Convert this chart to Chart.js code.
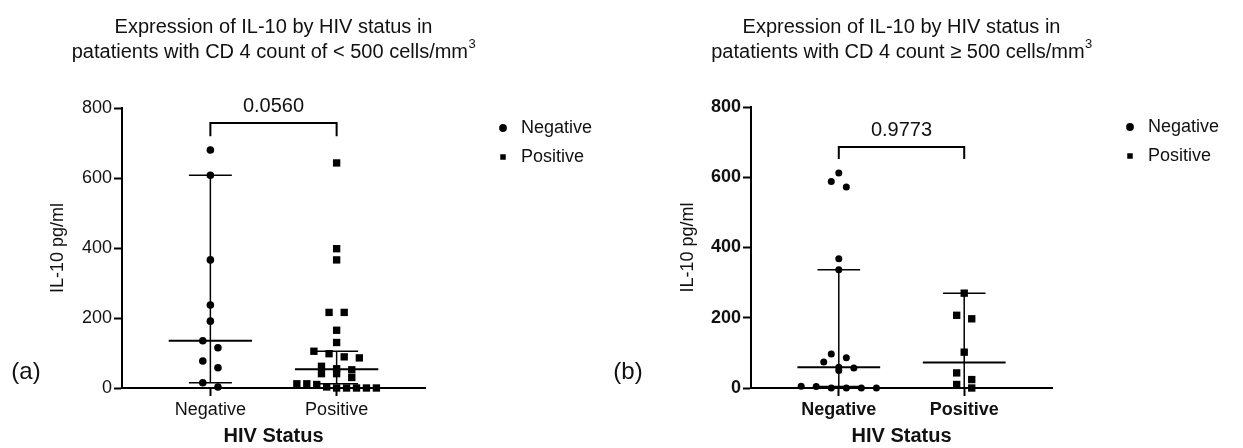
<!DOCTYPE html>
<html>
<head>
<meta charset="utf-8">
<script src="https://cdn.jsdelivr.net/npm/chart.js@4"></script>
<style>
  body { margin: 0; background: #fff; }
  #wrap { position: relative; width: 1243px; height: 448px; }
  canvas { position: absolute; top: 0; }
  #leftChart { left: 0; }
  #rightChart { left: 605px; }
</style>
</head>
<body>
<div id="wrap">
  <canvas id="leftChart" width="605" height="448"></canvas>
  <canvas id="rightChart" width="638" height="448"></canvas>
</div>
<script>
// data (IL-10 pg/ml)
const categories = ["Negative", "Positive"];
const lowNegative = [680, 608, 366, 237, 191, 135, 115, 77, 58, 15, 3];
const lowPositive = [643, 398, 366, 216, 216, 165, 130, 105, 98, 89, 86, 62, 55, 52, 41, 41, 30, 12, 12, 10, 3, 0, 0, 0, 0, 0];
const highNegative = [612, 588, 572, 368, 337, 97, 86, 74, 59, 57, 50, 5, 4, 0, 0, 0, 0];
const highPositive = [270, 207, 197, 102, 43, 24, 10, 0];
const pValues = ["0.0560", "0.9773"];
const bracketTop = [757, 686];
const bracketFoot = [719, 652];
const yTicks = [0, 200, 400, 600, 800];

const FONT = "'Liberation Sans', Arial, Helvetica, sans-serif";
Chart.defaults.font.family = FONT;
Chart.defaults.color = "#111";

// =========================
// helpers
// =========================

function sortedAsc(a) {
    return [...a].sort((p, q) => p - q);
}

function median(a) {
    const s = sortedAsc(a), n = s.length;
    return n % 2 ? s[(n - 1) / 2] : (s[n / 2 - 1] + s[n / 2]) / 2;
}

// 95% CI of the median (binomial ranks)
function medianCI(a) {
    const s = sortedAsc(a), n = s.length;
    let cum = 0, c = 1, j = 1;
    for (let k = 0; k < n; k++) {
        cum += c / Math.pow(2, n);
        if (cum > 0.025) { j = Math.max(k, 1); break; }
        c = c * (n - k) / (k + 1);
    }
    return [s[j - 1], s[n - j]];
}

// spread points with similar values sideways, like a scatter dot plot
function swarm(values, center) {
    const sorted = [...values].sort((p, q) => q - p);
    const rows = [];
    sorted.forEach(v => {
        const row = rows[rows.length - 1];
        if (row && row[0] - v <= 20) row.push(v); else rows.push([v]);
    });
    const pts = [];
    rows.forEach(row => {
        const step = row.length > 1 ? Math.min(0.12, 0.63 / (row.length - 1)) : 0;
        row.forEach((v, i) => pts.push({ x: center + (i - (row.length - 1) / 2) * step, y: v }));
    });
    return pts;
}

function seg(points, width) {
    return {
        data: points.map(p => ({ x: p[0], y: p[1] })),
        showLine: true,
        borderColor: "#000",
        borderWidth: width,
        pointRadius: 0,
        tension: 0,
        clip: false
    };
}

function groupLines(values, center) {
    const m = median(values);
    const [lo, hi] = medianCI(values);
    return [
        seg([[center - 0.33, m], [center + 0.33, m]], 2),
        seg([[center, lo], [center, hi]], 1.5),
        seg([[center - 0.17, lo], [center + 0.17, lo]], 1.5),
        seg([[center - 0.17, hi], [center + 0.17, hi]], 1.5)
    ];
}

// title (with superscript), p value and panel letter
const panelText = {
    id: "panelText",
    afterDraw(chart, args, opts) {
        const { ctx, chartArea } = chart;
        const x = chart.scales.x, y = chart.scales.y;
        const cx = (chartArea.left + chartArea.right) / 2;
        ctx.save();
        ctx.fillStyle = "#111";
        ctx.textBaseline = "middle";

        ctx.textAlign = "center";
        ctx.font = "20px " + FONT;
        ctx.fillText(opts.title[0], cx, 27);

        const w1 = ctx.measureText(opts.title[1]).width;
        ctx.font = "13px " + FONT;
        const w2 = ctx.measureText(opts.sup).width;
        const start = cx - (w1 + w2) / 2;
        ctx.textAlign = "left";
        ctx.font = "20px " + FONT;
        ctx.fillText(opts.title[1], start, 52);
        ctx.font = "13px " + FONT;
        ctx.fillText(opts.sup, start + w1 + 0.5, 44);

        ctx.textAlign = "center";
        ctx.font = "20px " + FONT;
        ctx.fillText(opts.pValue, x.getPixelForValue(1.5), y.getPixelForValue(opts.bracketTop) - 17);
        ctx.font = "24px " + FONT;
        ctx.fillText(opts.letter, opts.letterX, 372);
        ctx.restore();
    }
};

function makePanel(el, cfg) {
    const tickFont = { size: 18, weight: cfg.bold ? "bold" : "normal" };
    const gridOpts = {
        display: true,
        drawOnChartArea: false,
        drawTicks: true,
        tickLength: 8,
        tickWidth: 2,
        tickColor: "#000"
    };

    new Chart(el, {
        type: "scatter",
        data: {
            datasets: [
                {
                    label: categories[0],
                    data: swarm(cfg.neg, 1),
                    pointStyle: "circle",
                    pointRadius: cfg.dotRadius,
                    backgroundColor: "#000",
                    borderColor: "#000",
                    borderWidth: 0,
                    clip: false
                },
                {
                    label: categories[1],
                    data: swarm(cfg.pos, 2),
                    pointStyle: "rect",
                    pointRadius: 5.2,
                    backgroundColor: "#000",
                    borderColor: "#000",
                    borderWidth: 0,
                    clip: false
                },
                ...groupLines(cfg.neg, 1),
                ...groupLines(cfg.pos, 2),
                seg([[1, cfg.bracketFoot], [1, cfg.bracketTop], [2, cfg.bracketTop], [2, cfg.bracketFoot]], 2)
            ]
        },
        options: {
            responsive: false,
            animation: false,
            layout: { padding: { left: cfg.padLeft, right: cfg.padRight, top: cfg.padTop, bottom: 0 } },
            scales: {
                x: {
                    type: "linear",
                    min: 0.3,
                    max: 2.7,
                    afterBuildTicks: s => { s.ticks = [{ value: 1 }, { value: 2 }]; },
                    afterFit: s => { s.height = 60; },
                    ticks: {
                        callback: v => categories[v - 1],
                        font: tickFont,
                        color: "#111",
                        padding: 3
                    },
                    grid: gridOpts,
                    border: { color: "#000", width: 2 },
                    title: {
                        display: true,
                        text: "HIV Status",
                        font: { size: 20, weight: "bold" },
                        color: "#111",
                        padding: { top: 0, bottom: 0 }
                    }
                },
                y: {
                    min: yTicks[0],
                    max: yTicks[yTicks.length - 1],
                    afterBuildTicks: s => { s.ticks = yTicks.map(v => ({ value: v })); },
                    afterFit: s => { s.width = cfg.yWidth; },
                    ticks: { font: tickFont, color: "#111", padding: 2 },
                    grid: gridOpts,
                    border: { color: "#000", width: 2 },
                    title: {
                        display: true,
                        text: "IL-10 pg/ml",
                        font: { size: 18 },
                        color: "#111",
                        padding: { top: 4, bottom: 4 }
                    }
                },
                gap: {
                    type: "linear",
                    position: "right",
                    display: true,
                    grid: { display: false },
                    border: { display: false },
                    ticks: { display: false },
                    afterFit: s => { s.width = 58; }
                }
            },
            plugins: {
                title: { display: false },
                legend: {
                    display: true,
                    position: "right",
                    align: "start",
                    fullSize: false,
                    maxWidth: 110,
                    labels: {
                        usePointStyle: true,
                        boxWidth: 18,
                        boxHeight: 5.5,
                        padding: 11,
                        font: { size: 18 },
                        color: "#111",
                        filter: item => item.datasetIndex < 2
                    }
                },
                tooltip: { enabled: false },
                panelText: {
                    title: cfg.title,
                    sup: "3",
                    pValue: cfg.pValue,
                    bracketTop: cfg.bracketTop,
                    letter: cfg.letter,
                    letterX: cfg.letterX
                }
            }
        },
        plugins: [panelText]
    });
}

// =========================
// (a) CD4 < 500
// =========================

makePanel(document.getElementById("leftChart"), {
    title: ["Expression of IL-10 by HIV status in", "patatients with CD 4 count of < 500 cells/mm"],
    neg: lowNegative,
    pos: lowPositive,
    pValue: pValues[0],
    bracketTop: bracketTop[0],
    bracketFoot: bracketFoot[0],
    bold: false,
    dotRadius: 3.8,
    padLeft: 43,
    padRight: 12,
    padTop: 108,
    yWidth: 79,
    letter: "(a)",
    letterX: 26
});

// =========================
// (b) CD4 >= 500
// =========================

makePanel(document.getElementById("rightChart"), {
    title: ["Expression of IL-10 by HIV status in", "patatients with CD 4 count ≥ 500 cells/mm"],
    neg: highNegative,
    pos: highPositive,
    pValue: pValues[1],
    bracketTop: bracketTop[1],
    bracketFoot: bracketFoot[1],
    bold: true,
    dotRadius: 3.5,
    padLeft: 68,
    padRight: 23,
    padTop: 107,
    yWidth: 78,
    letter: "(b)",
    letterX: 23
});
</script>
</body>
</html>
